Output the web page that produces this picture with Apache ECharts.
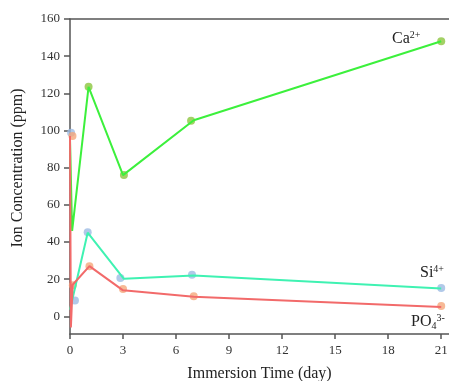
<!DOCTYPE html>
<html>
<head>
<meta charset="utf-8">
<script src="https://cdn.jsdelivr.net/npm/echarts@6/dist/echarts.min.js"></script>
<style>
  html, body { margin: 0; padding: 0; background: #fff; }
  #chart { width: 449px; height: 381px; }
</style>
</head>
<body>
<div id="chart"></div>
<script>
// line traces (day, ppm)
const caLine = [[0, 95], [0.12, 46], [1.05, 123.5], [3, 76], [7, 105.5], [21, 148]];
const siLine = [[0, 3.5], [1, 45], [3.05, 20.2], [7, 22], [21, 15]];
const poLine = [[0, 97], [0.05, -6], [0.15, 17], [1.1, 27], [3, 14], [7, 10.5], [21, 5]];

// measured points (day, ppm)
const caPts = [[1.05, 123.5], [3.05, 76], [6.85, 105.2], [21, 148]];
const siPts = [[0.06, 98.8], [0.28, 8.5], [1, 45.3], [2.85, 20.7], [6.9, 22.4], [21, 15.2]];
const poPts = [[0.14, 97], [0.16, 16.7], [1.1, 27], [3, 14.7], [7, 10.8], [21, 5.5]];

const xTicks = [0, 3, 6, 9, 12, 15, 18, 21];
const yTicks = [0, 20, 40, 60, 80, 100, 120, 140, 160];

const serif = '"Liberation Serif", "DejaVu Serif", serif';
const axisCol = '#555';

const chart = echarts.init(document.getElementById('chart'), null, { renderer: 'canvas' });

function lineSeries(data, color) {
  return {
    type: 'line', data: data, showSymbol: false, symbol: 'none',
    lineStyle: { color: color, width: 2 }, animation: false, silent: true
  };
}
function dotSeries(data, color) {
  return {
    type: 'scatter', data: data, symbolSize: 8,
    itemStyle: { color: color }, animation: false, silent: true
  };
}

const chemText = (x, y, txt) => ({
  type: 'text', left: x, top: y,
  style: {
    text: txt,
    rich: {
      b: { fontFamily: serif, fontSize: 16, fill: '#222', lineHeight: 18 },
      sup: { fontFamily: serif, fontSize: 10, fill: '#222', verticalAlign: 'top', lineHeight: 10 },
      sub: { fontFamily: serif, fontSize: 10, fill: '#222', verticalAlign: 'bottom', lineHeight: 10 }
    }
  }
});

chart.setOption({
  backgroundColor: '#fff',
  grid: { left: 70, right: 0, top: 19, bottom: 47, containLabel: false, outerBoundsMode: 'none' },
  xAxis: [{
    type: 'value', min: 0, max: 21.44,
    name: 'Immersion Time (day)', nameLocation: 'middle', nameGap: 32,
    nameTextStyle: { fontFamily: serif, fontSize: 16, color: '#222' },
    axisLine: { show: true, onZero: false, lineStyle: { color: axisCol, width: 1.5 } },
    axisTick: { show: true, length: 5, customValues: xTicks, lineStyle: { color: axisCol, width: 1.5 } },
    axisLabel: { customValues: xTicks, fontFamily: serif, fontSize: 13, color: '#333', margin: 10 },
    splitLine: { show: false }
  }, {
    type: 'value', position: 'top', min: 0, max: 21.44,
    axisLine: { show: true, onZero: false, lineStyle: { color: axisCol, width: 1.5 } },
    axisTick: { show: false }, axisLabel: { show: false }, splitLine: { show: false }
  }],
  yAxis: {
    type: 'value', min: -9.5, max: 160,
    name: 'Ion Concentration (ppm)', nameLocation: 'middle', nameGap: 44,
    nameTextStyle: { fontFamily: serif, fontSize: 16, color: '#222', padding: [0, 0, 0, 17] },
    axisLine: { show: true, onZero: false, lineStyle: { color: axisCol, width: 1.5 } },
    axisTick: { show: true, length: 6, customValues: yTicks, lineStyle: { color: axisCol, width: 1.5 } },
    axisLabel: { customValues: yTicks, fontFamily: serif, fontSize: 13, color: '#333', margin: 10 },
    splitLine: { show: false }
  },
  graphic: [
    chemText(392, 30, '{b|Ca}{sup|2+}'),
    chemText(420, 264, '{b|Si}{sup|4+}'),
    chemText(411, 313, '{b|PO}{sub|4}{sup|3-}')
  ],
  series: [
    lineSeries(siLine, '#3ff2b2'),
    lineSeries(caLine, '#3cf03c'),
    lineSeries(poLine, '#f26a6a'),
    dotSeries(caPts, '#8cc63f'),
    dotSeries(siPts, '#9dbbe4'),
    dotSeries(poPts, '#f5a77a')
  ]
});
</script>
</body>
</html>
